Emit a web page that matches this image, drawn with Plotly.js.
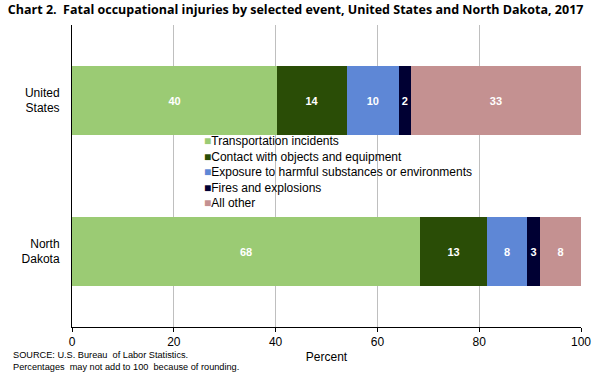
<!DOCTYPE html>
<html><head><meta charset="utf-8">
<script src="https://cdn.plot.ly/plotly-3.0.1.min.js"></script>
<style>body{margin:0;background:#fff}#chart{width:600px;height:373px}</style>
</head><body><div id="chart"></div>
<script>
const categories = ['United States', 'North Dakota'];
const categoryLabels = ['United<br>States', 'North<br>Dakota'];
const seriesNames = ['Transportation incidents', 'Contact with objects and equipment', 'Exposure to harmful substances or environments', 'Fires and explosions', 'All other'];
const transportation = [40.3, 68.4];
const contact = [13.7, 13.1];
const exposure = [10.2, 7.9];
const fires = [2.4, 2.6];
const allOther = [33.4, 8.0];
const colors = ['#9BCB74', '#2A4D06', '#5E87D6', '#000033', '#C49191'];
const xTicks = [0, 20, 40, 60, 80, 100];

const series = [transportation, contact, exposure, fires, allOther];
const traces = series.map((vals, i) => ({
  type: 'bar', orientation: 'h', name: seriesNames[i],
  y: categories, x: vals,
  marker: {color: colors[i], line: {width: 0}},
  text: vals.map(v => String(Math.round(v))),
  textposition: 'inside', insidetextanchor: 'middle',
  textfont: {family: 'Liberation Sans, Arial', size: 11, color: '#ffffff', weight: 'bold'},
  constraintext: 'none',
  width: 0.46, hoverinfo: 'skip', showlegend: false
}));

// legend drawn as one text block (native legend rows are too tall for the reference spacing)
const legendText = seriesNames.map((n, i) =>
  '<span style="color:' + colors[i] + ';font-size:12px">■</span>' + n).join('<br>');

const layout = {
  width: 600, height: 373,
  margin: {l: 72, r: 19, t: 25, b: 46},
  barmode: 'stack',
  paper_bgcolor: '#fff', plot_bgcolor: '#fff',
  font: {family: 'Liberation Sans, Arial', size: 12, color: '#000'},
  title: {text: '<b>Chart 2.  Fatal occupational injuries by selected event, United States and North Dakota, 2017</b>',
          font: {family: 'Open Sans, DejaVu Sans', size: 12.5, color: '#000'}, x: 0.013, xanchor: 'left', y: 0.985, yanchor: 'top'},
  xaxis: {range: [0, 100], tickvals: xTicks, ticktext: xTicks.map(String), showgrid: true, gridcolor: '#BFBFBF', gridwidth: 1,
          showline: true, linecolor: '#000', linewidth: 1, ticks: 'outside', ticklen: 4, tickcolor: '#000',
          zeroline: false, tickfont: {size: 12},
          title: {text: 'Percent', font: {size: 12}, standoff: 4}},
  yaxis: {autorange: 'reversed', tickvals: categories, ticktext: categoryLabels, showline: true, linecolor: '#000', linewidth: 1,
          ticks: '', showgrid: false, zeroline: false, tickfont: {size: 12}, ticklabelstandoff: 9},
  showlegend: false,
  annotations: [
    {text: legendText, xref: 'paper', yref: 'paper', x: 0.258, y: 0.642, xanchor: 'left', yanchor: 'top',
     showarrow: false, align: 'left', font: {size: 12}, borderpad: 0},
    {text: 'SOURCE: U.S. Bureau  of Labor Statistics.<br>Percentages  may not add to 100  because of rounding.', xref: 'paper', yref: 'paper',
     x: -0.118, y: -0.072, xanchor: 'left', yanchor: 'top', showarrow: false, align: 'left', font: {size: 9.2}, borderpad: 0}
  ]
};
Plotly.newPlot('chart', traces, layout, {displayModeBar: false, staticPlot: true});
</script></body></html>
